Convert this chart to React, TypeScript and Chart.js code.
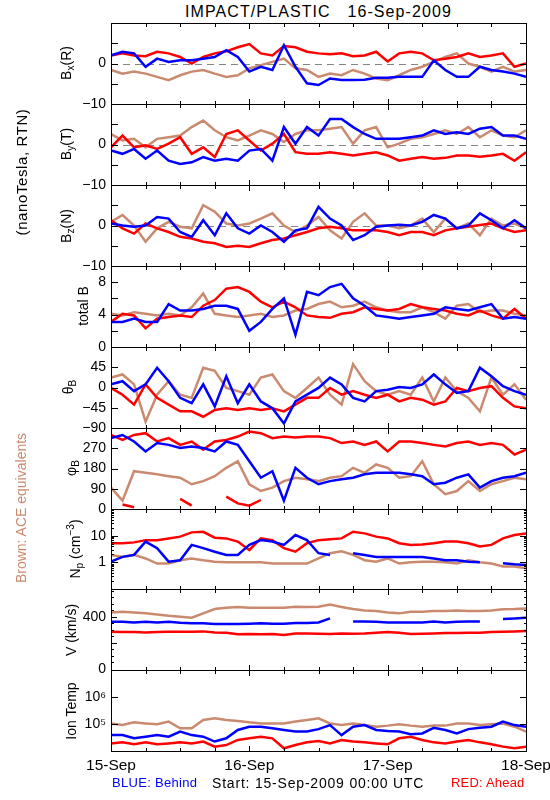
import React, { useEffect, useRef } from 'react';
import { Chart, registerables } from 'chart.js';

Chart.register(...registerables);

// ---------- time axis (hours since 15-Sep-2009 00:00 UTC) ----------
const HOURS = [0, 2, 4, 6, 8, 10, 12, 14, 16, 18, 20, 22, 24, 26, 28, 30, 32, 34, 36, 38, 40, 42, 44, 46, 48, 50, 52, 54, 56, 58, 60, 62, 64, 66, 68, 70, 72];
const DAY_TICKS = [0, 24, 48, 72];
const DAY_LABELS = ['15-Sep', '16-Sep', '17-Sep', '18-Sep'];
const X_MARKS = [0, 6, 12, 18, 24, 30, 36, 42, 48, 54, 60, 66, 72];

// ---------- Bx (R), nT ----------
const BX_BLUE = [2, 2.9, 2.5, -0.8, 1.2, 0.4, 0.8, 0.8, 1.2, 1.6, 3.3, 1.6, -2, -0.8, -1.6, 4.5, -0.8, -4.9, -5.3, -3.7, -4.1, -4.1, -4, -3.5, -3.5, -3.3, -3.3, -3.3, 0.8, -1.6, -3.3, -3.3, -0.8, -1.6, -2, -2.5, -3.3];
const BX_RED = [2, 2.5, 2, 1.8, 2.9, 2.5, 1.6, 0, 1.6, 2.5, 3, 4, 4.8, 2.5, 2, 4.3, 4, 2.9, 2.5, 2.3, 2.5, 1.8, 2, 2.9, 0.5, 2.5, 2.9, 2.5, 0.8, 1.2, 1.6, 2.5, 1.6, 2, 2.5, -0.8, 0];
const BX_BROWN = [-1.6, -2.5, -2, -2.5, -3.3, -4.1, -2.9, -2, -1.6, -2.5, -3.3, -2.9, -1.2, -0.4, 0.4, 1.2, -1.2, -1.6, -3.3, -2.5, -2.9, -1.6, -2.5, -3.7, -4.1, -2.9, -1.6, -0.8, 0.4, 1.6, 2.5, 0, -0.8, -2, -0.8, -2, -1.6];

// ---------- By (T), nT ----------
const BY_BLUE = [-1.5, -2.3, -1.1, -3.5, -1.5, -4, -4.8, -4.4, -3.1, -4, -3.5, -4, -1.5, -1.1, -4, 4.3, 0.2, 4.3, 2.2, 6.3, 6.3, 4.3, 2.6, 1.4, 1.4, 1.4, 1.8, 2.2, 3.5, 2.6, 3, 2.6, 3.9, 4.3, 2.2, 2.2, 1.4];
const BY_RED = [-0.7, 2.2, -0.7, -0.2, -1.1, 0.2, 1.8, -2.3, -0.7, -3.1, 2.6, 3.5, 1, -1.5, 0.2, 2.6, -1.9, -2.3, -2.3, -1.9, -2.3, -2.7, -2.3, -1.9, -2.7, -4, -3.5, -3.1, -3.5, -3.3, -2.7, -2.7, -3, -2.7, -2.3, -4, -1.9];
const BY_BROWN = [2.6, 1, 1.4, -0.7, 1.4, 1.8, 2.2, 4.3, 5.9, 3.5, 1.8, 1, 2.2, 3.5, 2.6, 0.6, 2.6, 3.5, 3.5, 3.9, 4.3, 0.2, 3.5, 4.3, -0.7, 0.2, 1.4, 1.8, 2.6, 3.5, 2.6, 4.3, 1.8, 3.5, 2.2, 1.8, 3.5];

// ---------- Bz (N), nT ----------
const BZ_BLUE = [0.5, 0, -0.3, 0, 2.1, 1.7, -1.6, -2.8, 1.3, -2.4, 3, -0.7, -2, 0, -1.6, -4, -1.2, -0.7, 4.6, 1.7, 0, -3.6, -2.4, -0.3, 0, 0.2, 0, 0.9, 2.6, 1.7, -0.7, 0, 3, 1.3, -0.7, 1.3, -0.7];
const BZ_RED = [1.3, -0.7, -2, 0.5, -0.7, -1.6, -2.8, -3.2, -4, -4.4, -5.3, -5, -5.3, -4.4, -3.6, -3.2, -2.4, -1.6, -0.7, -0.3, -0.7, -1.2, -1.2, -1.2, -1.6, -2.4, -1.6, -1.6, -2.4, -1.2, -0.7, -0.3, 0.1, 0.5, -0.7, -1.6, -1.2];
const BZ_BROWN = [0.9, 2.6, 0, -4, -0.7, 0.9, -0.3, -0.7, 5, 3.4, 0.5, 0, 0.5, 1.7, 3, 0, -1.6, 0, 2.1, -1.2, -3.2, 0.9, 3, 0, 0, -0.7, 0, 1.7, -1.6, 1.7, -0.7, 0.5, -2.4, 1.7, 0, 0.5, -0.7];

// ---------- total B, nT ----------
const BT_BLUE = [3.1, 3.1, 3.5, 3.1, 3.1, 5.3, 4.5, 4.5, 4.7, 5.1, 5.1, 4.7, 2, 3.1, 4.7, 6, 1.5, 6.8, 6.4, 7.4, 7.8, 6, 5.1, 3.9, 3.7, 3.5, 3.7, 3.9, 4.1, 4.9, 4.7, 4.5, 4.9, 5.3, 3.5, 3.7, 3.5];
const BT_RED = [3.1, 4.1, 3.9, 2.3, 3.5, 3.7, 3.9, 3.7, 5.1, 5.8, 7.2, 7.4, 6.8, 5.6, 4.9, 5.6, 4.9, 3.9, 3.7, 3.6, 4.1, 4.3, 4.9, 4.7, 4.5, 4.7, 5.3, 4.9, 4.7, 4.5, 4.1, 3.9, 4.5, 3.9, 3.5, 4.7, 3.5];
const BT_BROWN = [4.1, 3.9, 4.3, 4.1, 3.9, 4.1, 3.9, 4.9, 6.6, 4.1, 3.9, 3.7, 3.9, 4.1, 3.7, 3.9, 4.5, 4.7, 5.3, 5.6, 4.9, 5.1, 5.6, 4.9, 4.5, 4.3, 4.3, 4.9, 4.3, 3.5, 5.1, 5.3, 4.3, 4.5, 4.5, 4.1, 3.9];

// ---------- theta_B, deg ----------
const TH_BLUE = [7, 14, -8, 7, 44, 14, -23, -35, 7, -42, 25, -35, 7, -31, -46, -80, -31, -16, -1, 22, 7, -23, -31, -8, -5, 1, -1, 7, 29, 7, -12, -8, 44, 25, 3, -8, -16];
const TH_RED = [-1, -16, -38, 7, -23, -38, -53, -53, -65, -50, -46, -50, -46, -50, -46, -53, -38, -23, -23, -1, -16, -8, -16, -23, -16, -31, -23, -27, -38, -31, -1, -8, -1, 3, -23, -42, -46];
const TH_BROWN = [22, 29, 7, -76, -16, 14, -16, -23, 44, 37, -1, -8, -16, 22, 29, -8, -23, -1, 22, -16, -38, 52, 14, -8, -16, -8, -16, 22, -31, 22, -8, -23, -53, 22, -16, 7, -27];

// ---------- phi_B, deg ----------
const PH_BLUE = [315, 329, 300, 256, 293, 285, 271, 278, 271, 256, 300, 285, 212, 139, 168, 37, 183, 139, 110, 124, 132, 139, 154, 161, 161, 161, 154, 146, 110, 117, 139, 154, 95, 124, 139, 146, 161];
const PH_RED = [329, 307, 329, 337, 300, 315, 285, 300, 264, 300, 307, 322, 344, 337, 315, 322, 318, 322, 322, 315, 293, 300, 285, 300, 256, 300, 300, 293, 285, 278, 293, 300, 285, 293, 285, 242, 264];
const PH_RED_WRAP = [null, 20, 8, null, null, null, 45, 15, null, null, 55, 25, 15, 40, null, null, null, null, null, null, null, null, null, null, null, null, null, null, null, null, null, null, null, null, null, null, null];
const PH_BROWN = [95, 37, 168, 161, 154, 146, 139, 110, 124, 146, 183, 212, 110, 80, 95, 124, 139, 132, 124, 139, 146, 183, 161, 198, 183, 139, 146, 212, 110, 66, 80, 124, 80, 110, 124, 139, 132];

// ---------- proton density, cm^-3 ----------
const NP_BLUE = [1.06, 1.6, 1.9, 6, 3.4, 1.06, 1.2, 4.5, 3.4, 2.5, 1.9, 1.9, 4.5, 6.8, 6, 4.5, 10.6, 6.8, 2.2, 1.9, null, 2.2, 1.9, 1.6, 1.6, 1.6, 1.6, 1.6, 1.4, 1.2, 1.2, 1.06, 1.0, null, 0.93, 0.85, 0.8];
const NP_RED = [5.2, 5.2, 5.6, 6.8, 6.8, 7.9, 9.2, 13.3, 14, 8.4, 7.9, 6, 2.9, 7.9, 6.8, 3.4, 2.5, 5.2, 6.8, 7.3, 7.9, 14, 12.2, 9.2, 7.9, 5.2, 4.5, 4.7, 5.2, 6, 6, 5.2, 3.9, 4.5, 7.9, 10.6, 12.2];
const NP_BROWN = [1.9, 1.6, 1.9, 1.4, 0.9, 0.9, 1.2, 1.4, 1.2, 1.06, 1.0, 1.0, 1.0, 1.0, 0.9, 0.9, 0.9, 0.9, 1.4, 2.2, 2.6, 1.9, 1.2, 1.06, 1.4, 0.9, 1.0, 1.06, 1.06, 1.0, 0.9, 1.2, 1.0, 0.9, 0.7, 0.7, 0.6];

// ---------- bulk speed, km/s ----------
const V_BLUE = [362, 362, 357, 362, 357, 362, 355, 350, 350, 344, 344, 344, 347, 350, 347, 347, 352, 352, 357, 388, null, 365, 365, 362, 357, 357, 357, 357, 365, 357, 362, 365, 365, null, 383, 388, 393];
const V_RED = [285, 283, 283, 280, 283, 285, 285, 285, 288, 280, 278, 265, 267, 265, 267, 260, 272, 272, 270, 267, 272, 270, 272, 278, 283, 278, 267, 270, 272, 275, 275, 278, 278, 283, 285, 288, 290];
const V_BROWN = [434, 440, 434, 427, 419, 409, 401, 393, 427, 460, 470, 476, 470, 470, 470, 470, 478, 476, 478, 496, 476, 460, 450, 445, 434, 427, 440, 440, 445, 445, 450, 445, 445, 450, 458, 460, 465];

// ---------- ion temperature, K ----------
const T_BLUE = [38900, 38900, 29500, 33900, 38900, 33900, 52500, 38900, 33900, 22400, 29500, 60300, 79400, 79400, 69200, 60300, 52500, 52500, 64600, 91200, 38900, 79400, 91200, 60300, 55000, 52500, 41700, 44700, 72400, 60300, 44700, 64600, 72400, 79400, 123000, 91200, 79400];
const T_RED = [19100, 20900, 17800, 20900, 17800, 19100, 20900, 19100, 22400, 14500, 16600, 25700, 29500, 33900, 29500, 12600, 16600, 20900, 23400, 19100, 25700, 22400, 20900, 19100, 17800, 29500, 33900, 25700, 20900, 19100, 22400, 25700, 20900, 17800, 14500, 12600, 14500];
const T_BROWN = [105000, 91200, 115000, 105000, 97700, 123000, 69200, 69200, 141000, 162000, 141000, 129000, 115000, 105000, 105000, 105000, 123000, 141000, 162000, 105000, 91200, 105000, 91200, 79400, 87100, 97700, 87100, 79400, 87100, 87100, 105000, 105000, 91200, 97700, 105000, 79400, 52500];

// ---------- y tick labels and tick marks ----------
const B_TICK_LABELS = [-10, 0];
const BT_TICK_LABELS = [0, 4, 8];
const TH_TICK_LABELS = [-90, -45, 0, 45];
const PH_TICK_LABELS = [0, 90, 180, 270];
const NP_TICK_LABELS = [1, 10];
const V_TICK_LABELS = [0, 400];
const T_TICK_LABELS = [1e5, 1e6];

const B_MARKS = [-5, 0, 5];
const BT_MARKS = [2, 4, 6, 8];
const TH_MARKS = [-45, 0, 45];
const PH_MARKS = [90, 180, 270];
const NP_MAJOR_MARKS = [1, 10];
const NP_MINOR_MARKS = [0.2, 0.3, 0.4, 0.5, 0.6, 0.7, 0.8, 0.9, 2, 3, 4, 5, 6, 7, 8, 9, 20, 30, 40, 50, 60, 70, 80, 90];
const V_MAJOR_MARKS = [200, 400];
const V_MINOR_MARKS = [50, 100, 150, 250, 300, 350, 450, 500, 550, 600];
const T_MARKS = [1e5, 1e6];

// ---------- colours & layout ----------
const BLUE = '#0000ff';
const RED = '#ff0000';
const BROWN = '#c98a6f';
const FONT = 'Liberation Sans';
const PANEL_EDGES = [23, 104, 185, 266, 347, 428, 509, 589, 670, 751];
const PAD = 12;
const XAXIS_H = 30;

type Mark = { v: number; len: number };
type PanelCfg = {
  series: { data: (number | null)[]; color: string }[];
  type: 'linear' | 'logarithmic';
  min: number;
  max: number;
  labels: number[];
  marks: Mark[];
  zero: boolean;
  pow: boolean;
};

const mk = (vals: number[], len: number): Mark[] => vals.map((v) => ({ v, len }));

const PANELS: PanelCfg[] = [
  { series: [{ data: BX_BLUE, color: BLUE }, { data: BX_RED, color: RED }, { data: BX_BROWN, color: BROWN }], type: 'linear', min: -10, max: 10, labels: B_TICK_LABELS, marks: mk(B_MARKS, 7), zero: true, pow: false },
  { series: [{ data: BY_BLUE, color: BLUE }, { data: BY_RED, color: RED }, { data: BY_BROWN, color: BROWN }], type: 'linear', min: -10, max: 10, labels: B_TICK_LABELS, marks: mk(B_MARKS, 7), zero: true, pow: false },
  { series: [{ data: BZ_BLUE, color: BLUE }, { data: BZ_RED, color: RED }, { data: BZ_BROWN, color: BROWN }], type: 'linear', min: -10, max: 10, labels: B_TICK_LABELS, marks: mk(B_MARKS, 7), zero: true, pow: false },
  { series: [{ data: BT_BLUE, color: BLUE }, { data: BT_RED, color: RED }, { data: BT_BROWN, color: BROWN }], type: 'linear', min: 0, max: 10, labels: BT_TICK_LABELS, marks: mk(BT_MARKS, 7), zero: false, pow: false },
  { series: [{ data: TH_BLUE, color: BLUE }, { data: TH_RED, color: RED }, { data: TH_BROWN, color: BROWN }], type: 'linear', min: -90, max: 90, labels: TH_TICK_LABELS, marks: mk(TH_MARKS, 7), zero: false, pow: false },
  { series: [{ data: PH_BLUE, color: BLUE }, { data: PH_RED, color: RED }, { data: PH_RED_WRAP, color: RED }, { data: PH_BROWN, color: BROWN }], type: 'linear', min: 0, max: 360, labels: PH_TICK_LABELS, marks: mk(PH_MARKS, 7), zero: false, pow: false },
  { series: [{ data: NP_BLUE, color: BLUE }, { data: NP_RED, color: RED }, { data: NP_BROWN, color: BROWN }], type: 'logarithmic', min: 0.1, max: 100, labels: NP_TICK_LABELS, marks: [...mk(NP_MAJOR_MARKS, 7), ...mk(NP_MINOR_MARKS, 3)], zero: false, pow: false },
  { series: [{ data: V_BLUE, color: BLUE }, { data: V_RED, color: RED }, { data: V_BROWN, color: BROWN }], type: 'linear', min: -10, max: 615, labels: V_TICK_LABELS, marks: [...mk(V_MAJOR_MARKS, 6), ...mk(V_MINOR_MARKS, 3)], zero: false, pow: false },
  { series: [{ data: T_BLUE, color: BLUE }, { data: T_RED, color: RED }, { data: T_BROWN, color: BROWN }], type: 'logarithmic', min: 1e4, max: 1e7, labels: T_TICK_LABELS, marks: mk(T_MARKS, 7), zero: false, pow: true },
];

const SUP = ['\u2070', '\u00b9', '\u00b2', '\u00b3', '\u2074', '\u2075', '\u2076', '\u2077', '\u2078', '\u2079'];

function fmtTick(v: number, pow: boolean): string {
  if (pow) return '10' + SUP[Math.round(Math.log10(v))];
  return v < 0 ? '\u2212' + Math.abs(v) : String(v);
}

const framePlugin = {
  id: 'panelFrame',
  beforeDatasetsDraw(chart: any, _a: any, opts: any) {
    if (!opts.zero) return;
    const { ctx, chartArea } = chart;
    const y = Math.round(chart.scales.y.getPixelForValue(0)) + 0.5;
    ctx.save();
    ctx.strokeStyle = '#858585';
    ctx.lineWidth = 1;
    ctx.setLineDash([7, 5]);
    ctx.beginPath();
    ctx.moveTo(chartArea.left, y);
    ctx.lineTo(chartArea.right, y);
    ctx.stroke();
    ctx.restore();
  },
  afterDraw(chart: any, _a: any, opts: any) {
    const { ctx, chartArea } = chart;
    const { left, right, top, bottom } = chartArea;
    const xs = chart.scales.x;
    const ys = chart.scales.y;
    ctx.save();
    ctx.strokeStyle = '#000';
    ctx.lineWidth = 1;
    ctx.setLineDash([]);
    ctx.strokeRect(left + 0.5, top + 0.5, right - left, bottom - top);
    ctx.beginPath();
    for (const h of X_MARKS) {
      const x = Math.round(xs.getPixelForValue(h)) + 0.5;
      const len = h % 24 === 0 ? 6 : 4;
      ctx.moveTo(x, top);
      ctx.lineTo(x, top + len);
      ctx.moveTo(x, bottom + 1);
      ctx.lineTo(x, bottom + 1 - len);
    }
    for (const m of opts.marks as Mark[]) {
      const y = Math.round(ys.getPixelForValue(m.v)) + 0.5;
      ctx.moveTo(left, y);
      ctx.lineTo(left + m.len, y);
      ctx.moveTo(right + 1, y);
      ctx.lineTo(right + 1 - m.len, y);
    }
    ctx.stroke();
    ctx.restore();
  },
};

function Panel({ idx }: { idx: number }) {
  const ref = useRef<HTMLCanvasElement | null>(null);
  const isLast = idx === PANELS.length - 1;
  const areaH = PANEL_EDGES[idx + 1] - PANEL_EDGES[idx];
  const height = PAD + areaH + (isLast ? XAXIS_H : PAD);
  const top = PANEL_EDGES[idx] - PAD;

  useEffect(() => {
    const cfg = PANELS[idx];
    const datasets = cfg.series.map((s) => ({
      data: HOURS.map((h, i) => ({ x: h, y: s.data[i] })),
      borderColor: s.color,
      backgroundColor: s.color,
      borderWidth: 2.5,
      pointRadius: 0,
      tension: 0,
      spanGaps: false,
      fill: false,
    }));
    const chart = new Chart(ref.current as HTMLCanvasElement, {
      type: 'line',
      data: { datasets: datasets as any },
      plugins: [framePlugin as any],
      options: {
        responsive: false,
        maintainAspectRatio: false,
        animation: false,
        events: [],
        layout: { padding: { left: 0, right: 24, top: PAD, bottom: isLast ? 0 : PAD } },
        plugins: {
          legend: { display: false },
          tooltip: { enabled: false },
          title: { display: false },
          panelFrame: { zero: cfg.zero, marks: cfg.marks },
        } as any,
        scales: {
          x: {
            type: 'linear',
            min: 0,
            max: 72,
            display: isLast,
            position: 'bottom',
            grid: { display: false, drawTicks: false },
            border: { display: false },
            ticks: {
              autoSkip: false,
              maxRotation: 0,
              minRotation: 0,
              padding: 5,
              color: '#000',
              font: { family: FONT, size: 15.5 },
              callback: (v: any) => DAY_LABELS[DAY_TICKS.indexOf(Number(v))] ?? '',
            },
            afterBuildTicks: (s: any) => {
              s.ticks = DAY_TICKS.map((v) => ({ value: v }));
            },
            afterFit: (s: any) => {
              if (isLast) s.height = XAXIS_H;
              s.paddingLeft = 0;
              s.paddingRight = 0;
            },
          },
          y: {
            type: cfg.type,
            min: cfg.min,
            max: cfg.max,
            position: 'left',
            grid: { display: false, drawTicks: false },
            border: { display: false },
            ticks: {
              autoSkip: false,
              padding: 5,
              color: '#000',
              font: { family: FONT, size: 14 },
              callback: (v: any) => fmtTick(Number(v), cfg.pow),
            },
            afterBuildTicks: (s: any) => {
              s.ticks = cfg.labels.map((v) => ({ value: v }));
            },
            afterFit: (s: any) => {
              s.width = 111;
              s.paddingTop = 0;
              s.paddingBottom = 0;
            },
          },
        } as any,
      },
    });
    return () => chart.destroy();
  }, [idx]);

  return (
    <canvas
      ref={ref}
      width={550}
      height={height}
      style={{ position: 'absolute', left: 0, top, width: 550, height }}
    />
  );
}

function VText({ cx, cy, size = 14, color = '#000', spacing = 0, children }: any) {
  return (
    <div
      style={{
        position: 'absolute',
        left: cx,
        top: cy,
        transform: 'translate(-50%, -50%) rotate(-90deg)',
        whiteSpace: 'nowrap',
        fontFamily: FONT,
        fontSize: size,
        lineHeight: 1,
        letterSpacing: spacing,
        color,
      }}
    >
      {children}
    </div>
  );
}

const subStyle: React.CSSProperties = { fontSize: '0.72em', verticalAlign: '-0.28em', lineHeight: 0 };
const supStyle: React.CSSProperties = { fontSize: '0.72em', verticalAlign: '0.55em', lineHeight: 0 };

const AXIS_TITLES: { cx: number; cy: number; node: React.ReactNode }[] = [
  { cx: 66, cy: 63, node: <>B<sub style={subStyle}>x</sub>(R)</> },
  { cx: 66, cy: 144, node: <>B<sub style={subStyle}>y</sub>(T)</> },
  { cx: 66, cy: 226, node: <>B<sub style={subStyle}>z</sub>(N)</> },
  { cx: 83, cy: 306, node: <>total B</> },
  { cx: 68, cy: 387, node: <>θ<sub style={subStyle}>B</sub></> },
  { cx: 71, cy: 468, node: <>φ<sub style={subStyle}>B</sub></> },
  { cx: 75, cy: 549, node: <>N<sub style={subStyle}>p</sub> (cm<sup style={supStyle}>−3</sup>)</> },
  { cx: 71, cy: 630, node: <>V (km/s)</> },
  { cx: 71, cy: 711, node: <>Ion Temp</> },
];

export default function App() {
  return (
    <div style={{ position: 'absolute', left: 0, top: 0, width: 550, height: 800, background: '#fff', overflow: 'hidden' }}>
      <div
        style={{
          position: 'absolute',
          left: 111,
          top: 2,
          width: 415,
          textAlign: 'center',
          fontFamily: FONT,
          fontSize: 16,
          letterSpacing: 1.1,
          lineHeight: '20px',
          whiteSpace: 'pre',
          color: '#000',
        }}
      >
        {'IMPACT/PLASTIC   16-Sep-2009'}
      </div>

      {PANELS.map((_, i) => (
        <Panel key={i} idx={i} />
      ))}

      {AXIS_TITLES.map((t, i) => (
        <VText key={i} cx={t.cx} cy={t.cy}>
          {t.node}
        </VText>
      ))}

      <VText cx={21} cy={172} size={15} spacing={0.6}>
        (nanoTesla, RTN)
      </VText>
      <VText cx={21} cy={508} size={14} color={BROWN}>
        Brown: ACE equivalents
      </VText>

      <div style={{ position: 'absolute', left: 112, top: 775, fontFamily: FONT, fontSize: 13, letterSpacing: 0.3, lineHeight: '16px', color: BLUE, whiteSpace: 'pre' }}>
        BLUE: Behind
      </div>
      <div style={{ position: 'absolute', left: 212, top: 775, fontFamily: FONT, fontSize: 14, letterSpacing: 0.8, lineHeight: '16px', color: '#000', whiteSpace: 'pre' }}>
        Start: 15-Sep-2009 00:00 UTC
      </div>
      <div style={{ position: 'absolute', left: 451, top: 775, fontFamily: FONT, fontSize: 13, letterSpacing: 0.2, lineHeight: '16px', color: RED, whiteSpace: 'pre' }}>
        RED: Ahead
      </div>
    </div>
  );
}
